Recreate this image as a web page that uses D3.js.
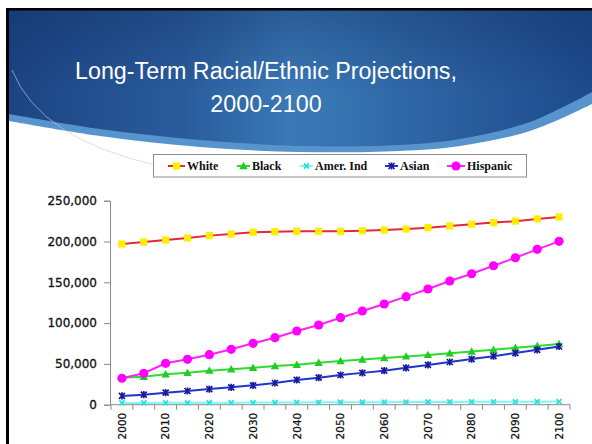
<!DOCTYPE html>
<html>
<head>
<meta charset="utf-8">
<script src="https://cdn.jsdelivr.net/npm/d3@7"></script>
<style>
  html, body { margin: 0; padding: 0; background: #fff; }
  svg { display: block; }
</style>
</head>
<body>
<svg id="slide" width="592" height="444"></svg>
<script>
// Projected population (thousands of persons), every five years 2000-2100
const years = d3.range(2000, 2101, 5).map(String);
const tickYears = ["2000","2010","2020","2030","2040","2050","2060","2070","2080","2090","2100"];
const yTicks = [0, 50000, 100000, 150000, 200000, 250000];

const white    = [196900,199400,201800,204300,207200,209200,211300,212000,212500,212500,212500,213200,214000,215200,217000,219100,221200,223200,224900,227700,230100];
const black    = [33000,34300,37300,39200,41700,43400,45300,47400,49000,51500,53600,55400,57300,59200,61000,63000,65200,67400,69800,72000,74300];
const amerInd  = [2100,2200,2300,2300,2400,2500,2600,2700,2800,2900,3000,3000,3100,3200,3300,3400,3500,3600,3600,3700,3800];
const asian    = [10700,12300,14700,16800,19200,21300,23800,26600,30300,33100,36400,39000,41700,45200,48700,52300,55900,59500,63300,67300,71300];
const hispanic = [32400,38500,50700,55600,61300,67900,75200,82100,90300,97700,106600,114800,123400,132400,141800,151600,160500,170300,180100,190400,200200];

const series = [
  { name: "White",      values: white,    line: "#e8253a", fill: "#ffee00", marker: "square" },
  { name: "Black",      values: black,    line: "#2edc2e", fill: "#22cc22", marker: "triangle" },
  { name: "Amer. Ind",  values: amerInd,  line: "#7ff5f5", fill: "#33dddd", marker: "cross" },
  { name: "Asian",      values: asian,    line: "#2233cc", fill: "#1a1a99", marker: "star" },
  { name: "Hispanic",   values: hispanic, line: "#ff22ff", fill: "#ff00ff", marker: "circle" }
];

const svg = d3.select("#slide");
const defs = svg.append("defs");

// ---- slide header ----
const grad = defs.append("linearGradient").attr("id", "hdr").attr("x1", "0").attr("x2", "1").attr("y1", "0").attr("y2", "0");
[["0%", "#1c4483"], ["30%", "#2a5c9c"], ["48%", "#3a78b6"], ["56%", "#3674b2"], ["80%", "#295b9b"], ["100%", "#1d4a8c"]]
  .forEach(([o, c]) => grad.append("stop").attr("offset", o).attr("stop-color", c));
const shade = defs.append("linearGradient").attr("id", "hdrShade").attr("x1", "0").attr("x2", "0").attr("y1", "0").attr("y2", "1");
shade.append("stop").attr("offset", "0%").attr("stop-color", "#0e2a5c").attr("stop-opacity", 0.35);
shade.append("stop").attr("offset", "60%").attr("stop-color", "#0e2a5c").attr("stop-opacity", 0);

const curve = d3.line().curve(d3.curveCatmullRom);
const bandEdge = [[9,121],[100,136],[200,147],[300,152],[400,151],[460,146],[530,131],[592,104]];
const darkEdge = [[9,114],[100,129],[200,140],[300,146],[400,145],[460,139],[530,122],[592,92]];

svg.append("path")
  .attr("d", "M9,10 L592,10 L" + curve(bandEdge.slice().reverse()).slice(1) + " Z")
  .attr("fill", "#5793cd");
svg.append("path")
  .attr("d", "M9,10 L592,10 L" + curve(darkEdge.slice().reverse()).slice(1) + " Z")
  .attr("fill", "url(#hdr)");
svg.append("path")
  .attr("d", "M9,10 L592,10 L" + curve(darkEdge.slice().reverse()).slice(1) + " Z")
  .attr("fill", "url(#hdrShade)");

// faint decorative arc
svg.append("path")
  .attr("d", "M12,70 Q40,140 160,166")
  .attr("fill", "none").attr("stroke", "#c8ccd4").attr("stroke-width", 0.8).attr("opacity", 0.8);

// slide frame (top and left edges)
svg.append("rect").attr("x", 6).attr("y", 8).attr("width", 586).attr("height", 2.5).attr("fill", "#000");
svg.append("rect").attr("x", 6).attr("y", 8).attr("width", 3).attr("height", 436).attr("fill", "#000");

// title
const title = svg.append("text")
  .attr("text-anchor", "middle")
  .attr("fill", "#fff")
  .style("font-family", "'Liberation Sans', Arial, sans-serif")
  .style("font-size", "23.3px");
title.append("tspan").attr("x", 266).attr("y", 79).text("Long-Term Racial/Ethnic Projections,");
title.append("tspan").attr("x", 266).attr("y", 112).text("2000-2100");

// ---- chart ----
const x = d3.scaleBand().domain(years).range([111, 570]).padding(0);
const y = d3.scaleLinear().domain([0, 250000]).range([404.7, 200.7]);
const cx = d => x(d) + x.bandwidth() / 2;

// y axis
const yAxis = svg.append("g")
  .attr("transform", "translate(110,0)")
  .call(d3.axisLeft(y).tickValues(yTicks).tickFormat(d3.format(",")).tickSize(6).tickPadding(7));
yAxis.select(".domain").attr("stroke", "#8a8a8a");
yAxis.selectAll(".tick line").attr("stroke", "#8a8a8a");
yAxis.selectAll(".tick text")
  .attr("fill", "#111")
  .attr("stroke", "#111").attr("stroke-width", 0.3)
  .style("font-family", "'DejaVu Sans', Verdana, sans-serif")
  .style("font-size", "12px");

// x axis: ticks between categories, labels every decade
const xg = svg.append("g");
xg.append("line")
  .attr("x1", x.range()[0]).attr("x2", x.range()[1])
  .attr("y1", y(0)).attr("y2", y(0))
  .attr("stroke", "#8a8a8a");
xg.selectAll("line.tk")
  .data(years.concat(["end"]))
  .join("line")
  .attr("class", "tk")
  .attr("x1", d => d === "end" ? x.range()[1] : x(d))
  .attr("x2", d => d === "end" ? x.range()[1] : x(d))
  .attr("y1", y(0)).attr("y2", y(0) + 5)
  .attr("stroke", "#8a8a8a");
xg.selectAll("text")
  .data(tickYears)
  .join("text")
  .attr("transform", d => `translate(${cx(d)},${y(0) + 8}) rotate(-90)`)
  .attr("text-anchor", "end")
  .attr("dy", "0.36em")
  .attr("fill", "#111")
  .attr("stroke", "#111").attr("stroke-width", 0.25)
  .style("font-family", "'DejaVu Sans', Verdana, sans-serif")
  .style("font-size", "10.5px")
  .text(d => d);

// markers
function drawMarker(g, type, px, py, s) {
  if (type === "square") {
    g.append("rect").attr("x", px - 3.6).attr("y", py - 3.6).attr("width", 7.2).attr("height", 7.2).attr("fill", s.fill);
  } else if (type === "triangle") {
    g.append("path").attr("d", `M${px},${py - 4.2} L${px + 4.2},${py + 3.2} L${px - 4.2},${py + 3.2} Z`).attr("fill", s.fill);
  } else if (type === "circle") {
    g.append("circle").attr("cx", px).attr("cy", py).attr("r", 4.6).attr("fill", s.fill);
  } else if (type === "cross") {
    g.append("path").attr("d", `M${px - 2.5},${py - 2.5} L${px + 2.5},${py + 2.5} M${px + 2.5},${py - 2.5} L${px - 2.5},${py + 2.5}`)
      .attr("stroke", s.fill).attr("stroke-width", 1.8);
  } else if (type === "star") {
    g.append("path").attr("d", `M${px - 3},${py - 3} L${px + 3},${py + 3} M${px + 3},${py - 3} L${px - 3},${py + 3} M${px},${py - 3.6} L${px},${py + 3.6}`)
      .attr("stroke", s.fill).attr("stroke-width", 1.7);
  }
}

const line = d3.line().x((d, i) => cx(years[i])).y(d => y(d));
series.forEach(s => {
  const g = svg.append("g");
  g.append("path").attr("d", line(s.values)).attr("fill", "none").attr("stroke", s.line).attr("stroke-width", 2);
  s.values.forEach((v, i) => drawMarker(g, s.marker, cx(years[i]), y(v), s));
});

// legend
svg.append("rect").attr("x", 153.5).attr("y", 154.5).attr("width", 373).attr("height", 22.5)
  .attr("fill", "#fff").attr("stroke", "#8c8c8c").attr("stroke-width", 1);
const legendX = [168, 237, 300, 385, 447];
const legendW = [17, 13, 13, 13, 18];
series.forEach((s, i) => {
  const g = svg.append("g");
  const ly = 166;
  g.append("line").attr("x1", legendX[i]).attr("x2", legendX[i] + legendW[i]).attr("y1", ly).attr("y2", ly)
    .attr("stroke", s.line).attr("stroke-width", 2);
  drawMarker(g, s.marker, legendX[i] + legendW[i] / 2, ly, s);
  g.append("text").attr("x", legendX[i] + legendW[i] + 2).attr("y", ly).attr("dy", "0.35em")
    .attr("fill", "#111")
    .style("font-family", "'Liberation Serif', 'Times New Roman', serif")
    .style("font-weight", "bold").style("font-size", "12px")
    .text(s.name);
});
</script>
</body>
</html>
